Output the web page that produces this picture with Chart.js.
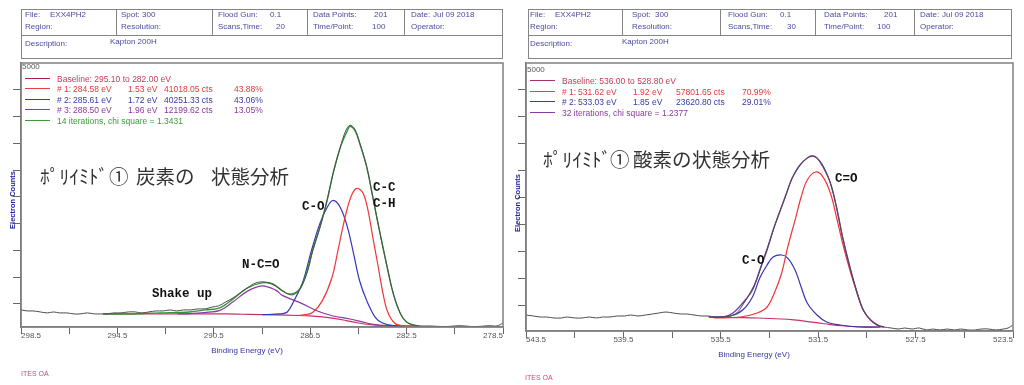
<!DOCTYPE html>
<html>
<head>
<meta charset="utf-8">
<script src="https://cdn.jsdelivr.net/npm/chart.js@4.4.1/dist/chart.umd.min.js"></script>
<style>
body { margin: 0; background: #fff; }
#page { position: relative; width: 1024px; height: 385px; overflow: hidden; font-family: "Liberation Sans", Arial, sans-serif; }
canvas { position: absolute; top: 0; }
.t { position: absolute; white-space: pre; font-size: 8px; line-height: 10px; z-index: 2; }
.lt { position: absolute; white-space: pre; font-size: 8.5px; line-height: 10px; z-index: 2; }
.box { position: absolute; border: 1.5px solid #858585; box-sizing: border-box; }
.hl { position: absolute; height: 0; border-top: 1.5px solid #858585; }
.vl { position: absolute; width: 0; border-left: 1.5px solid #858585; }
.ttl { position: absolute; font-family: "Noto Sans CJK JP"; font-size: 19.5px; line-height: 22px; color: #333; white-space: pre; z-index: 2; }
.pk { position: absolute; font-family: "Liberation Mono", monospace; font-weight: bold; font-size: 12.5px; line-height: 14px; color: #111; white-space: pre; z-index: 2; }
.lg { position: absolute; height: 0; border-top: 1.5px solid; z-index: 2; }
</style>
</head>
<body>
<div id="page">
  <canvas id="c1s" width="512" height="385" style="left:0"></canvas>
  <canvas id="o1s" width="512" height="385" style="left:512px"></canvas>
</div>
<script>
// ---- C 1s spectrum (left) ----
var c1sRawEV = [298.5,298.25,298.0,297.7,297.4,297.15,296.9,296.6,296.3,296.05,295.75,295.45,295.2,294.95,294.65,294.35,294.05,293.75,293.5,293.2,292.9,292.6,292.3,292.05,291.75,291.45,291.15,290.85,290.55,290.3,290.0,289.7,289.4,289.1,288.85,288.55,288.25,287.95,287.65,287.4,287.15,286.9,286.6,286.4,286.1,285.8,285.55,285.25,285.05,284.85,284.65,284.45,284.15,283.9,283.6,283.3,283.05,282.75,282.5,282.2,281.9,281.55,281.1,280.7,280.3,279.85,279.45,279.05,278.75,278.5];
var c1sRaw = [3890,3700,3700,3510,3330,3510,3330,3330,3140,3140,3330,3140,3140,3140,3330,3330,3510,3510,3330,3510,3700,3700,3890,3700,3890,3890,4080,4080,4450,4640,5390,6140,7080,8010,8760,9140,8950,8390,7450,6890,7080,8010,11200,14950,19260,24330,29390,34260,37080,38390,37640,35200,30510,24890,18140,11760,6890,3140,1640,1080,890,890,800,820,950,800,820,950,900,1450];
var c1sEnvEV = [295.1,294.0,292.75,291.5,290.85,290.25,289.7,289.1,288.5,288.05,287.65,287.25,286.9,286.63,286.4,286.1,285.8,285.55,285.25,284.95,284.85,284.65,284.45,284.15,283.9,283.6,283.3,283.05,282.75,282.5,282.25,282.0];
var c1sEnv = [3140,3140,3330,3510,3890,4260,5950,8010,8950,8760,7450,6700,8010,11200,14950,19260,24330,29390,34260,37450,38200,37450,35010,30510,24890,18140,11760,6890,3140,1640,1080,890];
var c1sBaseEV = [295.1,290.0,289.0,288.0,287.0,286.5,286.0,285.5,285.0,284.5,284.0,283.5,283.0,282.5,282.0];
var c1sBase = [3140,3140,3050,2950,2850,2760,2580,2300,1900,1450,1150,1000,930,900,890];
var c1sPk1EV = [287.0,286.7,286.4,286.0,285.6,285.35,285.15,284.95,284.75,284.55,284.3,284.1,283.9,283.7,283.5,283.3,283.0,282.65,282.3];
var c1sPk1 = [2850,3000,3400,5580,9890,14950,19260,23010,25640,26580,25640,22450,17390,12510,7450,3700,1450,920,890];
var c1sPk2EV = [288.5,287.75,287.45,287.15,286.8,286.45,286.1,285.8,285.55,285.25,284.95,284.7,284.45,284.15,283.8,283.5,283.05,282.6];
var c1sPk2 = [3000,3140,3510,5800,9200,14950,20010,23010,24330,23010,19260,14390,9330,5580,2500,1450,950,900];
var c1sPk3EV = [292.0,291.5,290.9,290.25,289.7,289.1,288.5,287.95,287.65,286.9,286.2,285.55,284.85,284.15,283.5,282.8];
var c1sPk3 = [3140,3200,3400,3800,5400,7400,8390,7640,6600,5200,3700,2760,2200,1450,980,900];
var c1sXTicks = [278.5,280.5,282.5,284.5,286.5,288.5,290.5,292.5,294.5,296.5,298.5];
var c1sXLabels = [278.5,282.5,286.5,290.5,294.5,298.5];

// ---- O 1s spectrum (right) ----
var o1sRawEV = [543.5,543.2,542.9,542.65,542.35,542.05,541.8,541.5,541.2,540.9,540.6,540.35,540.05,539.75,539.45,539.2,538.9,538.6,538.3,538.05,537.75,537.45,537.15,536.9,536.6,536.3,536.0,535.75,535.45,535.1,534.85,534.6,534.3,534.0,533.75,533.45,533.15,532.85,532.6,532.3,532.0,531.75,531.5,531.25,531.0,530.75,530.5,530.2,529.9,529.65,529.35,529.1,528.8,528.5,528.2,527.95,527.65,527.35,527.05,526.8,526.5,526.2,525.9,525.65,525.35,525.05,524.8,524.5,524.2,523.9,523.7,523.5];
var o1sRaw = [3170,2990,2800,2800,2620,2620,2800,2620,2620,2800,2620,2800,2800,2990,2990,3170,2990,3170,3360,3540,3730,3540,3360,3360,3170,2990,2990,2800,2800,2990,3540,5030,7260,10050,13580,17480,21570,25100,28260,30670,32160,32720,32160,30490,27700,23240,17670,12090,7260,4100,2240,1310,940,760,570,760,570,760,390,570,390,570,390,570,390,390,570,570,390,570,760,1310];
var o1sEnvEV = [536.0,535.4,535.0,534.6,534.2,533.9,533.6,533.35,533.05,532.8,532.55,532.25,531.95,531.75,531.55,531.3,531.0,530.75,530.5,530.2,529.9,529.65,529.35,529.05,528.8];
var o1sEnv = [2800,2800,3540,5400,7820,11530,15250,18970,22680,25840,28810,31040,32340,32720,32340,30670,27700,23240,17670,12090,7260,4100,2240,1310,940];
var o1sBaseEV = [536.0,535.0,534.0,533.0,532.5,532.0,531.5,531.0,530.5,530.0,529.5,528.8];
var o1sBase = [2800,2700,2620,2430,2250,2000,1700,1400,1180,1040,960,940];
var o1sPk1EV = [535.8,534.7,534.0,533.6,533.3,533.0,532.75,532.45,532.2,531.95,531.6,531.3,531.0,530.75,530.5,530.2,529.9,529.65,529.35,528.95];
var o1sPk1 = [2620,2800,3540,4660,7260,10980,15810,20820,25100,28260,29740,28810,25840,21380,16550,11530,7260,4100,2240,940];
var o1sPk2EV = [535.8,535.1,534.6,534.2,533.9,533.6,533.35,533.0,532.75,532.45,532.2,531.95,531.55,531.15,530.6,529.9,528.95];
var o1sPk2 = [2800,2990,4100,6520,10050,12460,13950,14320,13760,11530,8380,5400,3170,1870,1310,940,940];
var o1sXTicks = [523.5,525.5,527.5,529.5,531.5,533.5,535.5,537.5,539.5,541.5,543.5];
var o1sXLabels = [523.5,527.5,531.5,535.5,539.5,543.5];

var yTicks = [5000,10000,15000,20000,25000,30000,35000,40000,45000];

var frame = {
    id: 'frame',
    afterDraw: function (chart) {
        var a = chart.chartArea, ctx = chart.ctx;
        ctx.save();
        ctx.strokeStyle = '#808080';
        ctx.lineWidth = 1.5;
        ctx.strokeRect(a.left, a.top, a.right - a.left, a.bottom - a.top);
        ctx.restore();
    }
};

function series(xs, ys, color, width) {
    return {
        data: xs.map(function (x, i) { return {x: x, y: ys[i]}; }),
        borderColor: color,
        borderWidth: width || 1.2,
        pointRadius: 0,
        fill: false
    };
}

function spectrum(id, sets, xMin, xMax, yMin, pad, xTicks, xLabels) {
    return new Chart(document.getElementById(id), {
        type: 'line',
        data: {datasets: sets},
        options: {
            responsive: false,
            animation: false,
            layout: {padding: pad},
            plugins: {legend: {display: false}, tooltip: {enabled: false}},
            elements: {line: {tension: 0.35}},
            scales: {
                x: {
                    type: 'linear', reverse: true, min: xMin, max: xMax,
                    afterFit: function (s) { s.height = 20; },
                    afterBuildTicks: function (s) { s.ticks = xTicks.map(function (v) { return {value: v}; }); },
                    grid: {drawOnChartArea: false, tickLength: 7, color: '#666'},
                    border: {color: '#7a7a7a', width: 1.5},
                    ticks: {
                        align: 'inner', padding: -3, color: '#555', maxRotation: 0, autoSkip: false,
                        font: {family: 'Liberation Sans', size: 8},
                        callback: function (v) { return xLabels.indexOf(v) >= 0 ? v.toFixed(1) : ''; }
                    }
                },
                y: {
                    min: yMin, max: 50000,
                    afterFit: function (s) { s.width = 8; },
                    afterBuildTicks: function (s) { s.ticks = yTicks.map(function (v) { return {value: v}; }); },
                    grid: {drawOnChartArea: false, tickLength: 8, color: '#666'},
                    border: {color: '#7a7a7a', width: 1.5},
                    ticks: {display: false}
                }
            }
        },
        plugins: [frame]
    });
}

spectrum('c1s', [
    series(c1sRawEV, c1sRaw, '#4d4d4d', 1),
    series(c1sEnvEV, c1sEnv, '#2f9a2f', 1.4),
    series(c1sPk1EV, c1sPk1, '#f03535'),
    series(c1sPk2EV, c1sPk2, '#3535b8'),
    series(c1sPk3EV, c1sPk3, '#8a3aa0'),
    series(c1sBaseEV, c1sBase, '#c8306a')
], 278.5, 298.5, 700, {left: 13, right: 9, top: 63, bottom: 38}, c1sXTicks, c1sXLabels);

spectrum('o1s', [
    series(o1sRawEV, o1sRaw, '#4d4d4d', 1),
    series(o1sEnvEV, o1sEnv, '#7a3aa5', 1.4),
    series(o1sPk1EV, o1sPk1, '#f03535'),
    series(o1sPk2EV, o1sPk2, '#3535b8'),
    series(o1sBaseEV, o1sBase, '#c8306a')
], 523.5, 543.5, 200, {left: 6, right: 11, top: 63, bottom: 34}, o1sXTicks, o1sXLabels);

// ---- text and header tables ----
var page = document.getElementById('page');
function put(x, cy, s, color, cls, extra) {
    var d = document.createElement('div');
    d.className = cls || 't';
    d.textContent = s;
    d.style.left = x + 'px';
    d.style.color = color || '#4a4aa0';
    if (extra) d.style.cssText += extra;
    page.appendChild(d);
    d.style.top = (cy - d.offsetHeight / 2) + 'px';
    return d;
}
function el(cls, css) {
    var d = document.createElement('div');
    d.className = cls;
    d.style.cssText = css;
    page.appendChild(d);
}
function header(cols) {
    var x0 = cols[0], w = cols[5] - cols[0];
    el('box', 'left:' + x0 + 'px;top:9px;width:' + w + 'px;height:50px');
    el('hl', 'left:' + x0 + 'px;top:35px;width:' + w + 'px');
    for (var i = 1; i < 5; i++) el('vl', 'left:' + cols[i] + 'px;top:9px;height:26px');
}
header([21, 116, 212, 307, 404, 503]);
header([528, 622, 720, 815, 914, 1012]);

function headerText(scans, p) {
    put(p[0], 15, 'File:'); put(p[1], 15, 'EXX4PH2'); put(p[0], 27, 'Region:');
    put(p[2], 15, 'Spot:'); put(p[3], 15, '300'); put(p[2], 27, 'Resolution:');
    put(p[4], 15, 'Flood Gun:'); put(p[5], 15, '0.1'); put(p[4], 27, 'Scans,Time:'); put(p[6], 27, scans);
    put(p[7], 15, 'Data Points:'); put(p[8], 15, '201'); put(p[7], 27, 'Time/Point:'); put(p[9], 27, '100');
    put(p[10], 15, 'Date:'); put(p[11], 15, 'Jul 09 2018'); put(p[10], 27, 'Operator:');
    put(p[0], 44, 'Description:'); put(p[12], 42, 'Kapton 200H');
}
headerText('20', [25, 50, 121, 142, 218, 270, 276, 313, 374, 372, 411, 433, 110]);
headerText('30', [530, 555, 632, 655, 728, 780, 787, 824, 884, 877, 920, 942, 622]);

// fit annotations
function legendRow(x1, x2, cy, lineColor, textColor, parts) {
    el('lg', 'left:' + x1 + 'px;top:' + (cy - 0.75) + 'px;width:' + (x2 - x1) + 'px;border-color:' + lineColor);
    parts.forEach(function (p) { put(p[0], cy, p[1], textColor, 'lt'); });
}
legendRow(25, 50, 79, '#a8204a', '#c8385a', [[57, 'Baseline: 295.10 to 282.00 eV']]);
legendRow(25, 50, 89, '#e84040', '#e03a3a', [[57, '# 1:'], [73, '284.58 eV'], [128, '1.53 eV'], [164, '41018.05 cts'], [234, '43.88%']]);
legendRow(25, 50, 99.5, '#3a3ab0', '#3838a8', [[57, '# 2:'], [73, '285.61 eV'], [128, '1.72 eV'], [164, '40251.33 cts'], [234, '43.06%']]);
legendRow(25, 50, 110, '#8a3aa0', '#8a3a9a', [[57, '# 3:'], [73, '288.50 eV'], [128, '1.96 eV'], [164, '12199.62 cts'], [234, '13.05%']]);
legendRow(25, 50, 120.5, '#3a9a3a', '#3a9a3a', [[57, '14 iterations, chi square = 1.3431']]);

legendRow(530, 555, 80.5, '#a8306e', '#c8385a', [[562, 'Baseline: 536.00 to 528.80 eV']]);
legendRow(530, 555, 91.5, '#e84040', '#e03a3a', [[562, '# 1:'], [578, '531.62 eV'], [633, '1.92 eV'], [676, '57801.65 cts'], [742, '70.99%']]);
legendRow(530, 555, 102, '#3a3ab0', '#3838a8', [[562, '# 2:'], [578, '533.03 eV'], [633, '1.85 eV'], [676, '23620.80 cts'], [742, '29.01%']]);
legendRow(530, 555, 112.5, '#8a3aa0', '#8a3a9a', [[562, '32 iterations, chi square = 1.2377']]);

// top value of y axis
put(22, 67, '5000', '#555');
put(527, 70, '5000', '#555');

// titles, placed piece by piece
put(40, 176, 'ﾎﾟﾘｲﾐﾄﾞ', '#333', 'ttl');
put(109, 176, '①', '#333', 'ttl');
put(136, 176, '炭素の', '#333', 'ttl');
put(211, 176, '状態分析', '#333', 'ttl');
put(543, 159, 'ﾎﾟﾘｲﾐﾄﾞ', '#333', 'ttl');
put(610, 159, '①', '#333', 'ttl');
put(633, 159, '酸素の', '#333', 'ttl');
put(692, 159, '状態分析', '#333', 'ttl');

// peak labels
put(373, 188, 'C-C', '#111', 'pk');
put(373, 204, 'C-H', '#111', 'pk');
put(302, 207, 'C-O', '#111', 'pk');
put(242, 265, 'N-C=O', '#111', 'pk');
put(152, 294, 'Shake up', '#111', 'pk');
put(835, 179, 'C=O', '#111', 'pk');
put(742, 261, 'C-O', '#111', 'pk');

// axis titles
put(247, 351, 'Binding Energy (eV)', '#3535a5').style.transform = 'translateX(-50%)';
put(754, 355, 'Binding Energy (eV)', '#3535a5').style.transform = 'translateX(-50%)';
put(13, 200, 'Electron Counts', '#20209a', 't', 'font-weight:bold;font-size:7.5px;transform:translateX(-50%) rotate(-90deg);');
put(518, 203, 'Electron Counts', '#20209a', 't', 'font-weight:bold;font-size:7.5px;transform:translateX(-50%) rotate(-90deg);');

put(21, 374, 'ITES OA', '#e0407a', 't', 'font-size:7px;');
put(525, 378, 'ITES OA', '#e0407a', 't', 'font-size:7px;');
</script>
</body>
</html>
